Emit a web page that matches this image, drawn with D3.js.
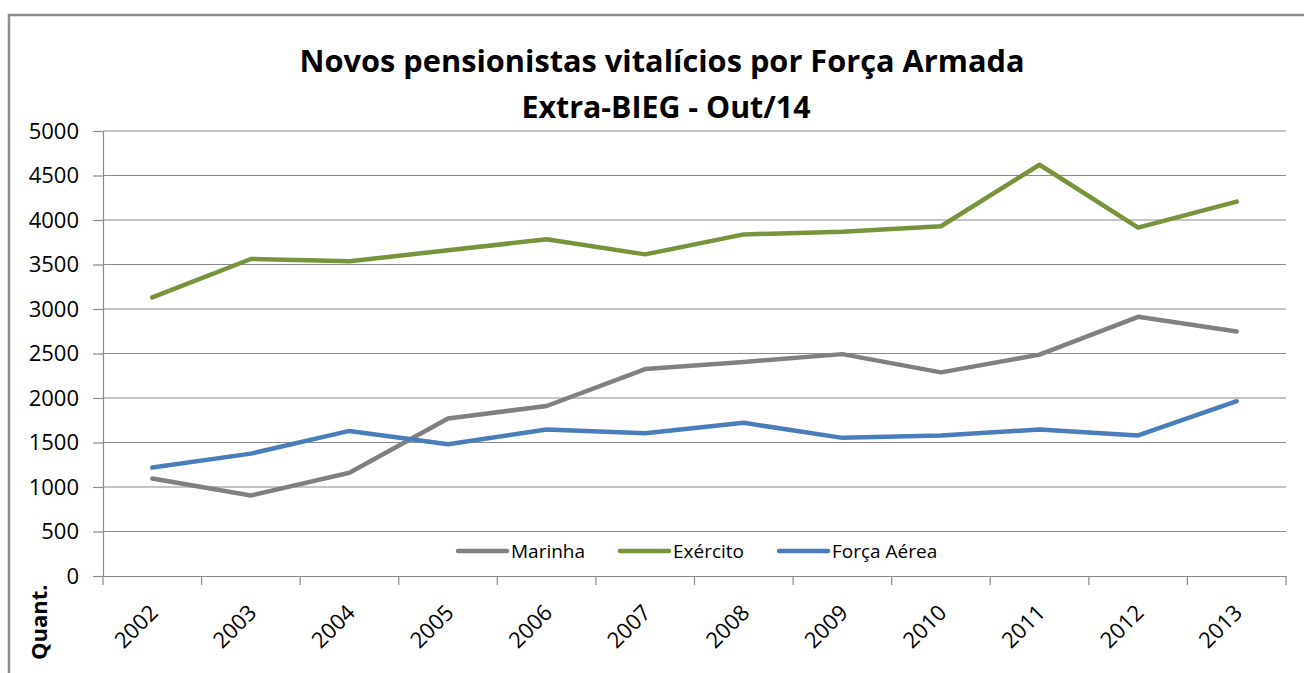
<!DOCTYPE html>
<html lang="pt">
<head>
<meta charset="UTF-8">
<title>Novos pensionistas vitalícios por Força Armada</title>
<script src="https://d3js.org/d3.v7.min.js"></script>
<style>
    body { margin: 0; background: #fff; }
    svg { display: block; font-family: "Open Sans", sans-serif; }
</style>
</head>
<body>
<svg id="chart" width="1304" height="673"></svg>
<script>
    // data
    const years = ["2002", "2003", "2004", "2005", "2006", "2007", "2008", "2009", "2010", "2011", "2012", "2013"];
    const marinha = [1095, 905, 1160, 1770, 1910, 2325, 2405, 2493, 2288, 2487, 2912, 2748];
    const exercito = [3131, 3562, 3536, 3660, 3783, 3614, 3838, 3868, 3930, 4621, 3915, 4206];
    const forcaAerea = [1218, 1375, 1630, 1480, 1645, 1604, 1721, 1552, 1579, 1646, 1579, 1964];
    const seriesNames = ["Marinha", "Exército", "Força Aérea"];
    const yTicks = [0, 500, 1000, 1500, 2000, 2500, 3000, 3500, 4000, 4500, 5000];

    const colors = ["#808080", "#77933c", "#4a7ebb"];
    const series = [marinha, exercito, forcaAerea];

    const svg = d3.select("#chart");
    const plotLeft = 103, plotRight = 1286, plotTop = 131, plotBottom = 576;

    const x = d3.scaleBand().domain(years).range([plotLeft, plotRight]);
    const y = d3.scaleLinear().domain([0, 5000]).range([plotBottom, plotTop]);

    // outer frame
    svg.append("rect")
        .attr("x", 9).attr("y", 15)
        .attr("width", 1320).attr("height", 700)
        .attr("fill", "#fff")
        .attr("stroke", "#8c8c8c")
        .attr("stroke-width", 2.5);

    // title
    const title = svg.append("g").attr("font-weight", "bold").attr("fill", "#000").attr("text-anchor", "middle");
    title.append("text")
        .attr("x", 662).attr("y", 72)
        .attr("font-size", 31)
        .attr("textLength", 725).attr("lengthAdjust", "spacingAndGlyphs")
        .text("Novos pensionistas vitalícios por Força Armada");
    title.append("text")
        .attr("x", 666).attr("y", 118)
        .attr("font-size", 31)
        .attr("textLength", 289).attr("lengthAdjust", "spacingAndGlyphs")
        .text("Extra-BIEG - Out/14");

    // gridlines
    svg.append("g")
        .selectAll("line")
        .data(yTicks.filter(d => d > 0))
        .enter().append("line")
        .attr("x1", plotLeft).attr("x2", plotRight)
        .attr("y1", d => y(d)).attr("y2", d => y(d))
        .attr("stroke", "#8a8a8a")
        .attr("stroke-width", 1.2);

    // y axis
    const yAxis = svg.append("g")
        .attr("transform", `translate(${plotLeft},0)`)
        .call(d3.axisLeft(y).tickValues(yTicks).tickFormat(d3.format("d"))
            .tickSize(10).tickPadding(14).tickSizeOuter(0));
    yAxis.select(".domain").attr("stroke", "#8a8a8a").attr("stroke-width", 1.2);
    yAxis.selectAll(".tick line").attr("stroke", "#8a8a8a").attr("stroke-width", 1.2);
    yAxis.selectAll(".tick text")
        .attr("font-family", "Open Sans, sans-serif")
        .attr("font-size", 22)
        .attr("fill", "#000");

    // x axis
    const xAxis = svg.append("g")
        .attr("transform", `translate(0,${plotBottom})`)
        .call(d3.axisBottom(x).tickSize(0).tickSizeOuter(0));
    xAxis.select(".domain").attr("stroke", "#8a8a8a").attr("stroke-width", 1.2);
    xAxis.selectAll(".tick text")
        .attr("font-family", "Open Sans, sans-serif")
        .attr("font-size", 22)
        .attr("fill", "#000")
        .attr("text-anchor", "end")
        .attr("dy", 0)
        .attr("y", 0)
        .attr("transform", "translate(7,38) rotate(-45)");

    // category boundary ticks
    const bounds = years.map(d => x(d)).concat([x.range()[1]]);
    svg.append("g")
        .selectAll("line")
        .data(bounds)
        .enter().append("line")
        .attr("x1", d => d).attr("x2", d => d)
        .attr("y1", plotBottom).attr("y2", plotBottom + 9)
        .attr("stroke", "#8a8a8a")
        .attr("stroke-width", 1.2);

    // axis title
    svg.append("text")
        .attr("transform", "translate(47,660) rotate(-90)")
        .attr("font-size", 22)
        .attr("font-weight", "bold")
        .attr("fill", "#000")
        .text("Quant.");

    // lines
    const line = d3.line()
        .x((d, i) => x(years[i]) + x.bandwidth() / 2)
        .y(d => y(d));

    svg.append("g")
        .selectAll("path")
        .data(series)
        .enter().append("path")
        .attr("d", d => line(d))
        .attr("fill", "none")
        .attr("stroke", (d, i) => colors[i])
        .attr("stroke-width", 4.5)
        .attr("stroke-linejoin", "round")
        .attr("stroke-linecap", "round");

    // legend
    const legendX = [458, 620, 779];
    const legend = svg.append("g")
        .selectAll("g")
        .data(seriesNames)
        .enter().append("g")
        .attr("transform", (d, i) => `translate(${legendX[i]},551)`);
    legend.append("line")
        .attr("x1", 0).attr("x2", 49)
        .attr("stroke", (d, i) => colors[i])
        .attr("stroke-width", 4.5)
        .attr("stroke-linecap", "round");
    legend.append("text")
        .attr("x", 53).attr("dy", "0.36em")
        .attr("font-size", 19)
        .attr("fill", "#000")
        .text(d => d);
</script>
</body>
</html>
